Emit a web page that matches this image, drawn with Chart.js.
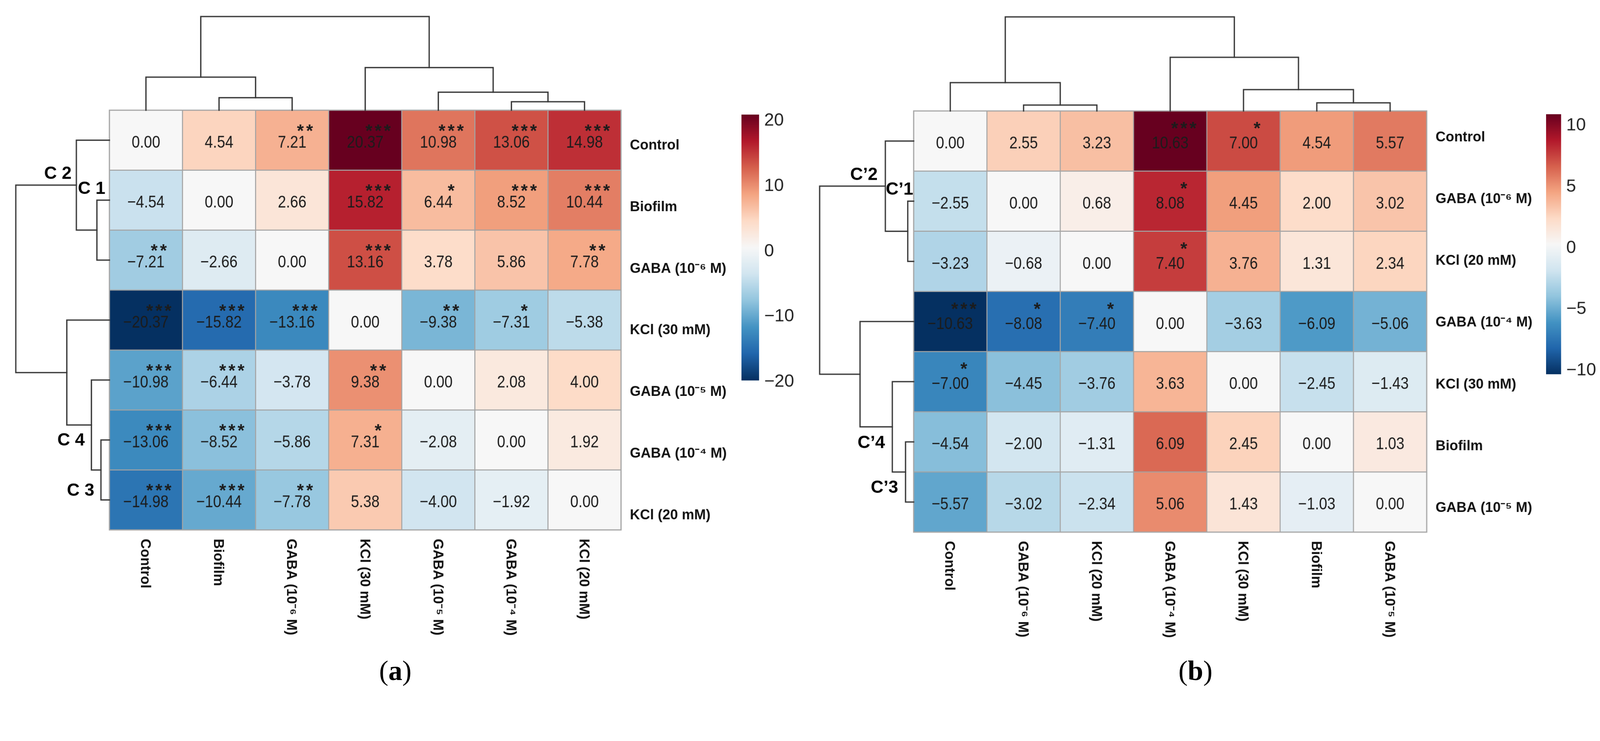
<!DOCTYPE html>
<html>
<head>
<meta charset="utf-8">
<script src="https://cdn.jsdelivr.net/npm/chart.js@4.4.1/dist/chart.umd.min.js"></script>
<style>
  html, body { margin: 0; background: #fff; overflow: hidden; }
  #page { position: relative; width: 4359px; height: 1896px; background: #fff; overflow: hidden;
          transform-origin: 0 0; }
  .panel { position: absolute; top: 0; width: 2180px; height: 1896px; }
  .panel canvas { position: absolute; left: 0; top: 0; }
  .cap { position: absolute; font: 76px 'Liberation Serif', 'Times New Roman', serif; color: #000;
         transform: translate(-50%, -50%); white-space: nowrap; }
</style>
</head>
<body>
<div id="page">
  <div class="panel" id="panelA" style="left:0"></div>
  <div class="panel" id="panelB" style="left:2180px"></div>
  <div class="cap" style="left:1077px;top:1826px">(<b>a</b>)</div>
  <div class="cap" style="left:3257px;top:1826px">(<b>b</b>)</div>
</div>
<script>
// ---- panel (a) ----
const labelsA = ['Control', 'Biofilm', 'GABA (10⁻⁶ M)', 'KCl (30 mM)', 'GABA (10⁻⁵ M)', 'GABA (10⁻⁴ M)', 'KCl (20 mM)'];
const valuesA = [
  [0.00, 4.54, 7.21, 20.37, 10.98, 13.06, 14.98],
  [-4.54, 0.00, 2.66, 15.82, 6.44, 8.52, 10.44],
  [-7.21, -2.66, 0.00, 13.16, 3.78, 5.86, 7.78],
  [-20.37, -15.82, -13.16, 0.00, -9.38, -7.31, -5.38],
  [-10.98, -6.44, -3.78, 9.38, 0.00, 2.08, 4.00],
  [-13.06, -8.52, -5.86, 7.31, -2.08, 0.00, 1.92],
  [-14.98, -10.44, -7.78, 5.38, -4.00, -1.92, 0.00]
];
const starsA = [
  ['', '', '**', '***', '***', '***', '***'],
  ['', '', '', '***', '*', '***', '***'],
  ['**', '', '', '***', '', '', '**'],
  ['***', '***', '***', '', '**', '*', ''],
  ['***', '***', '', '**', '', '', ''],
  ['***', '***', '', '*', '', '', ''],
  ['***', '***', '**', '', '', '', '']
];
// [height, left, right], leaves are indices in display order
const treeA = [255, [90, 0, [34, 1, 2]], [116, 3, [49, 4, [23, 5, 6]]]];
const clustersA = [
  { text: 'C 2', h: 103, r: 0.645 },
  { text: 'C 1', h: 11, r: 0.897 },
  { text: 'C 4', h: 67, r: 5.09 },
  { text: 'C 3', h: 41, r: 5.93 }
];
const colorMaxA = 20.37;
const colorTicksA = [20, 10, 0, -10, -20];

// ---- panel (b) ----
const labelsB = ['Control', 'GABA (10⁻⁶ M)', 'KCl (20 mM)', 'GABA (10⁻⁴ M)', 'KCl (30 mM)', 'Biofilm', 'GABA (10⁻⁵ M)'];
const valuesB = [
  [0.00, 2.55, 3.23, 10.63, 7.00, 4.54, 5.57],
  [-2.55, 0.00, 0.68, 8.08, 4.45, 2.00, 3.02],
  [-3.23, -0.68, 0.00, 7.40, 3.76, 1.31, 2.34],
  [-10.63, -8.08, -7.40, 0.00, -3.63, -6.09, -5.06],
  [-7.00, -4.45, -3.76, 3.63, 0.00, -2.45, -1.43],
  [-4.54, -2.00, -1.31, 6.09, 2.45, 0.00, 1.03],
  [-5.57, -3.02, -2.34, 5.06, 1.43, -1.03, 0.00]
];
const starsB = [
  ['', '', '', '***', '*', '', ''],
  ['', '', '', '*', '', '', ''],
  ['', '', '', '*', '', '', ''],
  ['***', '*', '*', '', '', '', ''],
  ['*', '', '', '', '', '', ''],
  ['', '', '', '', '', '', ''],
  ['', '', '', '', '', '', '']
];
const treeB = [256, [77, 0, [16, 1, 2]], [146, 3, [58, 4, [22, 5, 6]]]];
const clustersB = [
  { text: 'C’2', h: 98, r: 0.647 },
  { text: 'C’1', h: 1, r: 0.89 },
  { text: 'C’4', h: 78, r: 5.1 },
  { text: 'C’3', h: 42, r: 5.85 }
];
const colorMaxB = 10.63;
const colorTicksB = [10, 5, 0, -5, -10];

const rdbu = ['#053061', '#2166ac', '#4393c3', '#92c5de', '#d1e5f0', '#f7f7f7',
              '#fddbc7', '#f4a582', '#d6604d', '#b2182b', '#67001f'];

// fit the 4359x1896 page into whatever viewport we get
const fit = Math.min(window.innerWidth / 4359, window.innerHeight / 1896);
document.getElementById('page').style.transform = `scale(${fit})`;

const W = 2180, H = 1896;
const NUM_FONT = "46px 'Liberation Sans', Arial, sans-serif";
const STAR_FONT = "bold 48px 'Liberation Sans', Arial, sans-serif";
const LABEL_FONT = "bold 38px 'Liberation Sans', Arial, sans-serif";
const CLUSTER_FONT = "bold 48px 'Liberation Sans', Arial, sans-serif";
const TICK_FONT = "48px 'Liberation Sans', Arial, sans-serif";
const LINE_COLOR = '#383838';

function hexToRgb(h) {
  return [1, 3, 5].map(k => parseInt(h.substr(k, 2), 16));
}
function colorFor(v, max) {
  let t = (v + max) / (2 * max) * (rdbu.length - 1);
  t = Math.max(0, Math.min(rdbu.length - 1, t));
  const i = Math.min(Math.floor(t), rdbu.length - 2);
  const f = t - i;
  const a = hexToRgb(rdbu[i]), b = hexToRgb(rdbu[i + 1]);
  const c = a.map((x, k) => Math.round(x + (b[k] - x) * f));
  return `rgb(${c[0]},${c[1]},${c[2]})`;
}
function fmt(v) {
  const s = Math.abs(v).toFixed(2);
  return v < 0 ? '−' + s : s;
}
// draw text with its cap height centred on y
function capText(ctx, text, x, y) {
  const m = ctx.measureText('H');
  ctx.fillText(text, x, y + m.actualBoundingBoxAscent / 2);
}

function makeCanvas(parent) {
  const c = document.createElement('canvas');
  c.width = W; c.height = H;
  c.style.width = W + 'px'; c.style.height = H + 'px';
  parent.appendChild(c);
  return c;
}
function pad(l, t, r, b) {
  return { left: l, top: t, right: W - r, bottom: H - b };
}
const baseOpts = {
  responsive: false, animation: false,
  plugins: { legend: { display: false }, tooltip: { enabled: false } }
};

function buildPanel(el, p) {
  const n = p.labels.length;
  const L = p.layout;

  // heatmap cells as floating bars
  const cellText = {
    id: 'cellText',
    afterDatasetsDraw(chart) {
      const { ctx, chartArea, scales: { x, y } } = chart;
      ctx.save();
      ctx.fillStyle = '#1c1c1c';
      ctx.textAlign = 'center';
      for (let i = 0; i < n; i++) {
        for (let j = 0; j < n; j++) {
          const px = x.getPixelForValue(j), py = y.getPixelForValue(i);
          ctx.font = NUM_FONT;
          ctx.save();
          ctx.translate(px, py + 4);
          ctx.scale(0.87, 1);   // narrow figures as in the original
          capText(ctx, fmt(p.values[i][j]), 0, 0);
          ctx.restore();
          const s = p.stars[i][j];
          if (s) {
            ctx.font = STAR_FONT;
            const m = ctx.measureText('*');
            const off = (m.actualBoundingBoxAscent - m.actualBoundingBoxDescent) / 2;
            for (let k = 0; k < s.length; k++) {
              ctx.fillText('*', px + L.starDx + (k - (s.length - 1) / 2) * 25, py + L.starDy + off);
            }
          }
        }
      }
      // outer frame
      ctx.strokeStyle = '#a6a6a6';
      ctx.lineWidth = 3;
      ctx.strokeRect(chartArea.left, chartArea.top, chartArea.width, chartArea.height);
      // row labels (right)
      ctx.fillStyle = '#111';
      ctx.font = LABEL_FONT;
      ctx.textAlign = 'left';
      for (let i = 0; i < n; i++) {
        const yy = chartArea.top + (y.getPixelForValue(i) - chartArea.top) * L.rowSpread + L.rowDy;
        capText(ctx, p.labels[i], chartArea.right + 24, yy);
      }
      // column labels (bottom, rotated)
      const capH = ctx.measureText('H').actualBoundingBoxAscent;
      for (let j = 0; j < n; j++) {
        ctx.save();
        ctx.translate(x.getPixelForValue(j), chartArea.bottom + 24);
        ctx.rotate(Math.PI / 2);
        ctx.fillText(p.labels[j], 0, capH / 2);
        ctx.restore();
      }
      ctx.restore();
    }
  };
  new Chart(makeCanvas(el), {
    type: 'bar',
    data: {
      labels: p.labels,
      datasets: p.values.map((row, i) => ({
        data: row.map(() => [i - 0.5, i + 0.5]),
        backgroundColor: row.map(v => colorFor(v, p.max)),
        borderColor: '#a3a3a3',
        borderWidth: 1.7,
        borderSkipped: false,
        barPercentage: 1,
        categoryPercentage: 1,
        grouped: false
      }))
    },
    options: {
      ...baseOpts,
      layout: { padding: pad(L.hx0, L.hy0, L.hx1, L.hy1) },
      scales: {
        x: { display: false },
        y: { display: false, min: -0.5, max: n - 0.5, reverse: true }
      }
    },
    plugins: [cellText]
  });

  // dendrogram links
  const links = [];
  (function walk(node) {
    if (typeof node === 'number') return { pos: node, h: 0 };
    const a = walk(node[1]), b = walk(node[2]);
    links.push([a, b, node[0]]);
    return { pos: (a.pos + b.pos) / 2, h: node[0] };
  })(p.tree);
  const root = p.tree[0];
  const lineDs = pts => ({
    data: pts, showLine: true, pointRadius: 0, borderColor: LINE_COLOR, borderWidth: 3.5,
    borderCapStyle: 'square', borderJoinStyle: 'miter', clip: false
  });

  // top (column) dendrogram
  new Chart(makeCanvas(el), {
    type: 'scatter',
    data: {
      datasets: links.map(([a, b, h]) => lineDs([
        { x: a.pos, y: a.h }, { x: a.pos, y: h }, { x: b.pos, y: h }, { x: b.pos, y: b.h }
      ]))
    },
    options: {
      ...baseOpts,
      layout: { padding: pad(L.hx0, L.hy0 - root, L.hx1, L.hy0) },
      scales: {
        x: { display: false, min: -0.5, max: n - 0.5 },
        y: { display: false, min: 0, max: root }
      }
    }
  });

  // left (row) dendrogram with cluster names
  const clusterText = {
    id: 'clusterText',
    afterDatasetsDraw(chart) {
      const { ctx, scales: { x, y } } = chart;
      ctx.save();
      ctx.font = CLUSTER_FONT;
      ctx.fillStyle = '#000';
      ctx.textAlign = 'right';
      p.clusters.forEach(c => ctx.fillText(c.text, x.getPixelForValue(c.h), y.getPixelForValue(c.r)));
      ctx.restore();
    }
  };
  new Chart(makeCanvas(el), {
    type: 'scatter',
    data: {
      datasets: links.map(([a, b, h]) => lineDs([
        { x: a.h, y: a.pos }, { x: h, y: a.pos }, { x: h, y: b.pos }, { x: b.h, y: b.pos }
      ]))
    },
    options: {
      ...baseOpts,
      layout: { padding: pad(L.hx0 - root, L.hy0, L.hx0, L.hy1) },
      scales: {
        x: { display: false, min: 0, max: root, reverse: true },
        y: { display: false, min: -0.5, max: n - 0.5, reverse: true }
      }
    },
    plugins: [clusterText]
  });

  // colour bar
  const cbTicks = {
    id: 'cbTicks',
    afterDatasetsDraw(chart) {
      const { ctx, chartArea, scales: { y } } = chart;
      ctx.save();
      ctx.font = TICK_FONT;
      ctx.fillStyle = '#222';
      ctx.textAlign = 'left';
      p.ticks.forEach(t => capText(ctx, fmt(t).replace('.00', ''), chartArea.right + 14, y.getPixelForValue(t) + 7));
      ctx.restore();
    }
  };
  new Chart(makeCanvas(el), {
    type: 'bar',
    data: {
      labels: [''],
      datasets: [{
        data: [[-p.max, p.max]],
        borderWidth: 0,
        barPercentage: 1,
        categoryPercentage: 1,
        backgroundColor(c) {
          const chart = c.chart;
          if (!chart.chartArea) return rdbu[5];
          const ys = chart.scales.y;
          const g = chart.ctx.createLinearGradient(0, ys.getPixelForValue(-p.max), 0, ys.getPixelForValue(p.max));
          rdbu.forEach((col, k) => g.addColorStop(k / (rdbu.length - 1), col));
          return g;
        }
      }]
    },
    options: {
      ...baseOpts,
      layout: { padding: pad(L.cbx0, L.cby0, L.cbx1, L.cby1) },
      scales: {
        x: { display: false },
        y: { display: false, min: -p.max, max: p.max }
      }
    },
    plugins: [cbTicks]
  });
}

buildPanel(document.getElementById('panelA'), {
  labels: labelsA, values: valuesA, stars: starsA, tree: treeA, clusters: clustersA,
  max: colorMaxA, ticks: colorTicksA,
  layout: { hx0: 298, hx1: 1692, hy0: 300, hy1: 1443, starDx: 35, starDy: -34,
            rowSpread: 1.027, rowDy: 10, cbx0: 2020, cbx1: 2068, cby0: 312, cby1: 1036 }
});
buildPanel(document.getElementById('panelB'), {
  labels: labelsB, values: valuesB, stars: starsB, tree: treeB, clusters: clustersB,
  max: colorMaxB, ticks: colorTicksB,
  layout: { hx0: 309, hx1: 1707, hy0: 302, hy1: 1449, starDx: 37, starDy: -43,
            rowSpread: 1.027, rowDy: -15, cbx0: 2032, cbx1: 2073, cby0: 311, cby1: 1019 }
});
</script>
</body>
</html>
